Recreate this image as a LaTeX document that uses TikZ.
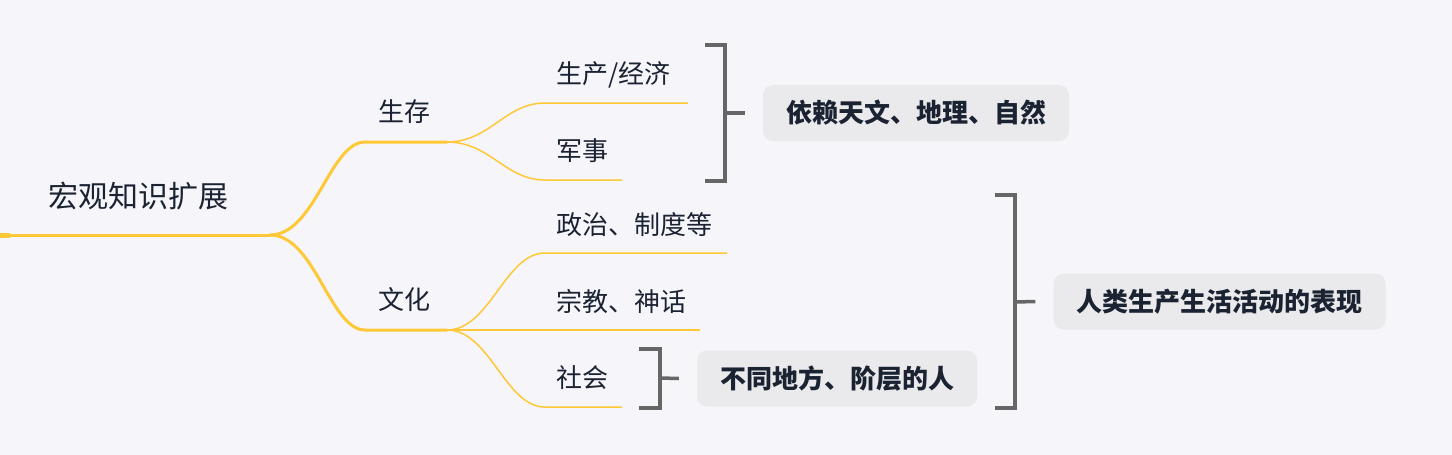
\documentclass[tikz,border=0pt]{standalone}
\usepackage{fontspec}
\setmainfont{Noto Sans CJK SC}
\usetikzlibrary{positioning}
\definecolor{paper}{RGB}{245,245,250}
\definecolor{branch}{RGB}{255,200,55}
\definecolor{ink}{RGB}{27,35,51}
\definecolor{boxgray}{RGB}{234,234,236}
\definecolor{bracegray}{RGB}{102,102,102}
\tikzset{
  topic/.style={font=\fontsize{26}{30}\selectfont, text=ink, inner sep=0pt, anchor=west},
  summary/.style={font=\fontsize{26}{30}\selectfont\bfseries, text=ink, fill=boxgray,
    rounded corners=10pt, minimum height=56pt, inner xsep=23pt},
  trunk/.style={draw=branch, line width=3pt},
  twig/.style={draw=branch, line width=1.5pt},
  bracket/.style={draw=bracegray, line width=3.5pt}
}
\begin{document}
\begin{tikzpicture}[x=1pt, y=-1pt]
  \fill[paper] (0,0) rectangle (1452,455);
  \useasboundingbox (0,0) rectangle (1452,455);
  %% topics
  \node[topic, font=\fontsize{30}{34}\selectfont] (root) at (48,196) {宏观知识扩展};
  \node[topic] (live) at (378,112) {生存};
  \node[topic] (culture) at (378,300) {文化};
  \node[topic] (econ) at (556,75) {生产/经济};
  \node[topic] (army) at (556,151) {军事};
  \node[topic] (polit) at (556,225) {政治、制度等};
  \node[topic] (relig) at (556,302) {宗教、神话};
  \node[topic] (soc) at (556,378) {社会};
  %% line ends
  \coordinate (rootL) at (0,235);
  \coordinate (rootR) at (270,235);
  \coordinate (liveL) at (365,142);
  \coordinate (liveR) at (447,142);
  \coordinate (cultL) at (365,330);
  \coordinate (cultR) at (447,330);
  \coordinate (econL) at (545,103);
  \coordinate (econR) at (688,103);
  \coordinate (armyL) at (545,180);
  \coordinate (armyR) at (622,180);
  \coordinate (politL) at (545,253);
  \coordinate (politR) at (727,253);
  \coordinate (religR) at (700,330);
  \coordinate (socL) at (545,407);
  \coordinate (socR) at (622,407);
  %% main branches
  \draw[draw=branch, line width=5pt] (rootL) -- ++(10,0);
  \draw[trunk] (rootL) -- (rootR);
  \draw[trunk] (rootR) .. controls (315,235) and (330,142) .. (liveL) -- (liveR);
  \draw[trunk] (rootR) .. controls (315,235) and (330,330) .. (cultL) -- (cultR);
  %% sub branches
  \draw[twig] (liveR) .. controls (490,142) and (505,103) .. (econL) -- (econR);
  \draw[twig] (liveR) .. controls (490,142) and (505,180) .. (armyL) -- (armyR);
  \draw[twig] (cultR) .. controls (490,330) and (505,253) .. (politL) -- (politR);
  \draw[twig] (cultR) -- (religR);
  \draw[twig] (cultR) .. controls (490,330) and (505,407) .. (socL) -- (socR);
  %% summaries
  \node[summary] (nature) at (916,113) {依赖天文、地理、自然};
  \node[summary] (human) at (1219.5,301.5) {人类生产生活活动的表现};
  \node[summary] (people) at (837,378.5) {不同地方、阶层的人};
  \draw[bracket] (705,45) -| (725,181) -- (705,181);
  \draw[bracket] (725,113) -- ([xshift=-18pt]nature.west);
  \draw[bracket] (995,195) -| (1015,408) -- (995,408);
  \draw[bracket] (1015,302) -- ([xshift=-18pt]human.west);
  \draw[bracket] (639,349) -| (660,408) -- (639,408);
  \draw[bracket] (660,378) -- ([xshift=-18pt]people.west);
\end{tikzpicture}
\end{document}
